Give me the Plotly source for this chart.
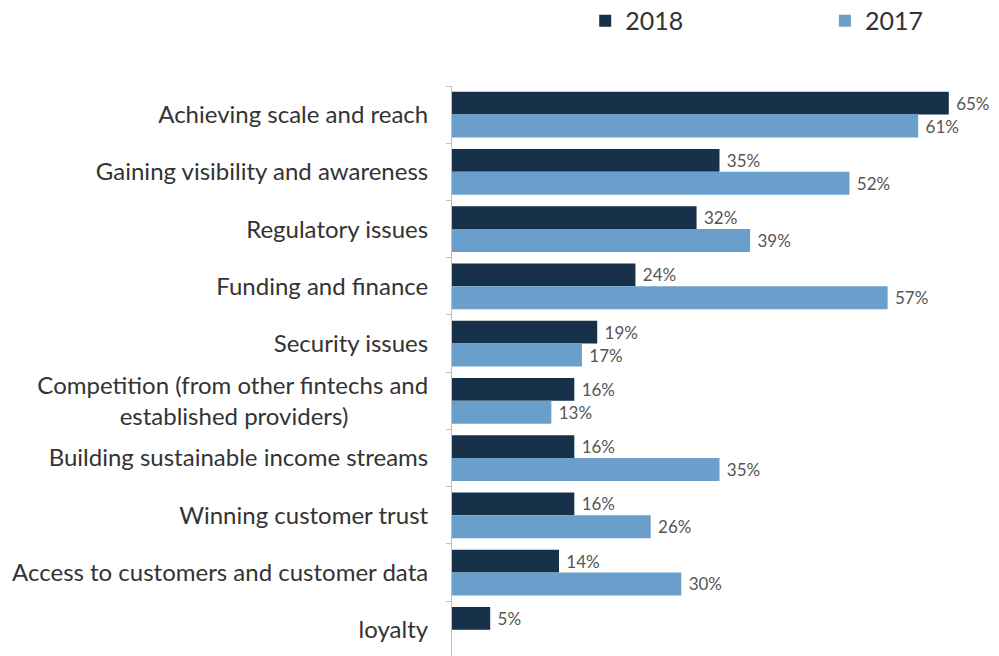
import plotly.graph_objects as go

categories = [
    "Achieving scale and reach",
    "Gaining visibility and awareness",
    "Regulatory issues",
    "Funding and finance",
    "Security issues",
    "Competition (from other fintechs and<br>established providers)" + "\u00a0" * 13,
    "Building sustainable income streams",
    "Winning customer trust",
    "Access to customers and customer data",
    "loyalty",
]
values_2018 = [65, 35, 32, 24, 19, 16, 16, 16, 14, 5]
values_2017 = [61, 52, 39, 57, 17, 13, 35, 26, 30, None]

dark = "#17314a"
light = "#6a9fcb"
FONT = "Lato, 'Open Sans', sans-serif"
label_font = dict(family=FONT, size=17, color="#555555")

fig = go.Figure()
fig.add_trace(go.Bar(
    name="2018", y=categories, x=values_2018, orientation="h",
    marker=dict(color=dark, line=dict(width=0)),
    texttemplate=" %{x}%", textposition="outside", textfont=label_font,
    cliponaxis=False, legend="legend",
))
fig.add_trace(go.Bar(
    name="2017", y=categories, x=values_2017, orientation="h",
    marker=dict(color=light, line=dict(width=0)),
    texttemplate=" %{x}%", textposition="outside", textfont=label_font,
    cliponaxis=False, legend="legend2",
))

legend_common = dict(
    orientation="h", yanchor="middle", yref="container",
    xanchor="left", font=dict(size=25, color="#333333"),
    bgcolor="rgba(0,0,0,0)",
)

fig.update_layout(
    width=999, height=656,
    paper_bgcolor="white", plot_bgcolor="white",
    barmode="group", bargap=0.2, bargroupgap=0,
    margin=dict(l=452, r=12, t=86, b=0),
    font=dict(family=FONT, color="#333333"),
    showlegend=True,
    legend=dict(legend_common, x=0.249, y=0.968),
    legend2=dict(legend_common, x=0.697, y=0.968),
)

fig.update_xaxes(
    range=[0, 70], visible=False, showgrid=False, zeroline=False,
)
fig.update_yaxes(
    type="category", range=[9.458, -0.5],
    showline=True, linecolor="#bfbfbf", linewidth=1,
    ticks="outside", ticklen=5, tickcolor="#bfbfbf", tickson="boundaries",
    ticklabelstandoff=18, showgrid=False,
    tickfont=dict(size=24, color="#333333"),
)

fig.write_html("out.html")
